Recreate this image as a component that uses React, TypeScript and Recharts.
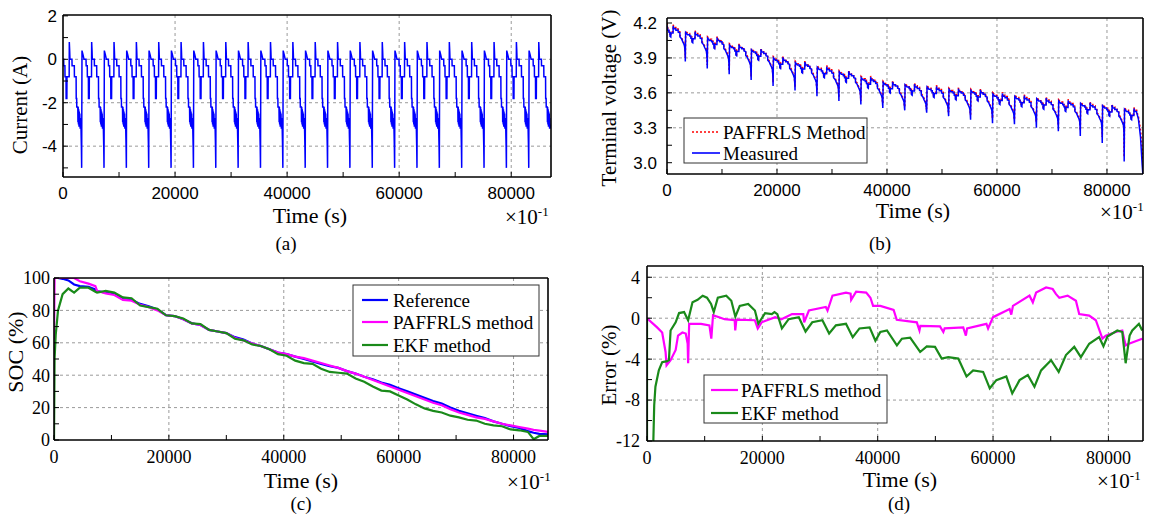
import { LineChart, Line, XAxis, YAxis, CartesianGrid } from "recharts";

// ---------- (a)/(b): one test cycle, placed at every -5 A spike ----------
const cycleStarts = [
  -660, 3330, 7320, 11310, 15300, 19290, 23280, 27270, 31260, 35250, 39240,
  43230, 47220, 51210, 55200, 59190, 63180, 67170, 71160, 75150, 79140, 83130,
];

const currentPhase = [
  0, 60, 250, 420, 780, 800, 1000, 1020, 1200, 1220, 1350, 1370, 1760, 1785,
  1850, 1900, 2260, 2280, 2680, 2700, 3000, 3020, 3100, 3120, 3300, 3330, 3370,
  3420, 3460, 3520, 3560, 3620, 3660, 3720, 3760, 3820, 3860, 3940,
];
const currentLevel = [
  -5.0, 0.4, 0.2, 0.0, 0.0, -0.3, -0.3, -0.8, -0.8, -1.8, -1.8, -0.8, -0.8, 0.8,
  0.4, 0.0, 0.0, -0.3, -0.3, -0.8, -0.8, -1.8, -1.8, -2.2, -2.2, -2.9, -2.2,
  -3.0, -2.3, -3.1, -2.4, -3.1, -2.5, -3.2, -2.7, -3.2, -3.0, -4.0,
];

// voltage shape inside a cycle (V relative to the cycle plateau; phase 0 is the dip)
const voltPhase = [
  0, 60, 250, 420, 780, 800, 1000, 1020, 1200, 1220, 1350, 1370, 1760, 1785,
  1900, 2260, 2280, 2680, 2700, 3000, 3020, 3300, 3520, 3720, 3860, 3940,
];
const voltOffset = [
  0, 0.02, 0.01, 0, 0, -0.012, -0.012, -0.03, -0.03, -0.065, -0.07, -0.035,
  -0.035, 0.025, 0, 0, -0.012, -0.012, -0.03, -0.035, -0.07, -0.085, -0.11,
  -0.13, -0.15, -0.2,
];

const measTop = [
  4.15, 4.1, 4.05, 3.99, 3.95, 3.88, 3.84, 3.8, 3.76, 3.71, 3.67, 3.65, 3.63,
  3.61, 3.6, 3.57, 3.55, 3.53, 3.51, 3.49, 3.47, 3.44,
];
const measDip = [
  3.87, 3.81, 3.76, 3.71, 3.66, 3.62, 3.57, 3.53, 3.5, 3.47, 3.45, 3.43, 3.4,
  3.37, 3.34, 3.33, 3.3, 3.27, 3.23, 3.17, 3.01,
];
const estTop = [
  4.16, 4.11, 4.06, 4.0, 3.96, 3.89, 3.85, 3.81, 3.77, 3.72, 3.68, 3.66, 3.64,
  3.62, 3.61, 3.58, 3.56, 3.54, 3.52, 3.5, 3.48, 3.45,
];
const estDip = [
  3.9, 3.84, 3.79, 3.74, 3.69, 3.65, 3.6, 3.56, 3.53, 3.51, 3.49, 3.47, 3.44,
  3.41, 3.38, 3.37, 3.35, 3.32, 3.28, 3.22, 3.05,
];
const tailTime = [85700, 86100, 86400, 86600];
const measTail = [3.38, 3.22, 2.98, 2.85];
const estTail = [3.4, 3.28, 3.1, 3.0];

// ---------- (c) SOC ----------
const socTime = [
  0, 100, 300, 700, 1500, 2500, 3500, 4500, 6000, 7200, 7500, 9000, 10500,
  12000, 13500, 15000, 16500, 18000, 19500, 21000, 22500, 24000, 25500, 27000,
  28500, 30000, 31500, 33000, 34500, 36000, 37500, 39000, 40500, 42000, 43500,
  45000, 46500, 48000, 49500, 51000, 52500, 54000, 55500, 57000, 58500, 60000,
  61500, 63000, 64500, 66000, 67500, 69000, 70500, 72000, 73500, 75000, 76500,
  78000, 79500, 81000, 82500, 83500, 84500, 86000,
];
const socRef = [
  100, 100, 100, 100, 99.5, 98.5, 96, 95, 94.5, 93, 92, 91, 90, 87, 86.5, 84,
  82.5, 80.5, 77, 76.5, 74.5, 72, 71, 68, 67, 66, 63.5, 62, 59.5, 58, 56, 54,
  53, 51.5, 50, 48.5, 47, 45.5, 44.5, 42.5, 41, 39, 37.5, 35.5, 34, 32, 30, 28,
  26, 24, 22.5, 20, 18, 16.5, 15, 13.5, 11.5, 10, 8.5, 7.5, 5.5, 4.5, 3.8, 3.5,
];
const socPaf = [
  62, 100, 100, 100, 100, 100, 100, 98, 96.5, 95, 92, 90.5, 89.5, 86.5, 86,
  83.5, 82, 80, 77, 76.5, 74.5, 72, 71, 68, 67, 66, 63, 61.5, 59.5, 58, 56, 54,
  53, 51.5, 50.5, 49, 47.5, 46, 44.5, 42.5, 41, 39, 37, 35, 33, 31, 29, 27, 25,
  23, 21.5, 19, 17, 15.5, 14, 13, 11.5, 10, 9, 8, 7, 6.3, 5.8, 5,
];
const socEkf = [
  0, 50, 65, 80, 90, 93.5, 91, 94, 94, 91.5, 91, 92, 91, 88, 87.5, 83, 82, 81,
  77, 76.5, 75, 72, 71.5, 68, 67, 66, 62.5, 61.5, 59, 58, 56, 53, 52, 49, 47.5,
  47, 44, 42, 41.5, 41, 38, 36, 33, 30.5, 30, 27.5, 25, 22, 19.5, 18, 17, 15,
  14, 12.5, 12, 10, 9, 8.5, 6.5, 6, 5, 0.5, 2.5, 2.5,
];

// ---------- (d) error ----------
const errPafTime = [
  0, 1750, 2630, 3220, 3390, 4090, 4970, 5380, 6140, 6720, 7050, 7130, 7310,
  9360, 10820, 11150, 11450, 12500, 13450, 15200, 15300, 15500, 18700, 19200,
  19880, 22220, 23300, 25150, 27100, 27250, 28070, 31000, 31300, 32160, 34500,
  35300, 35400, 36260, 38010, 38740, 39200, 40460, 42760, 43300, 46780, 47240,
  47400, 50800, 51380, 51600, 54830, 55290, 55500, 58850, 59140, 60000, 62870,
  63160, 63450, 66320, 66900, 67470, 69200, 70340, 70920, 71490, 72930, 74370,
  74940, 76670, 77820, 78970, 79540, 81260, 82410, 82990, 83560, 85860,
];
const errPafVal = [
  0, -0.9, -1.4, -3.3, -4.6, -4.1, -3.1, -1.7, -1.4, -1.5, -2.5, -4.4, -0.55,
  -0.55, -0.7, -2.0, 0.3, 0.1, -0.1, -0.2, -1.2, -0.15, -0.2, -1.0, -0.4, 0.1,
  -0.1, 0.4, 0.4, -0.4, 0.75, 1.1, 0.75, 2.2, 2.5, 2.4, 1.8, 2.6, 2.5, 2.0, 1.2,
  1.2, 0.8, -0.15, -0.4, -1.2, -0.75, -0.8, -1.35, -1.0, -0.9, -1.7, -1.0,
  -0.55, -1.0, 0.1, 0.9, 0.35, 1.2, 2.2, 1.55, 2.5, 3.0, 2.85, 2.35, 2.0, 2.2,
  1.7, 0.4, 0.25, -0.2, -2.0, -1.7, -1.35, -1.2, -2.65, -2.5, -2.0,
];
const errEkfTime = [
  0, 1, 1000, 1100, 1250, 1460, 2050, 2630, 3510, 3800, 4090, 4970, 5560, 6430,
  7130, 7890, 8770, 9650, 10400, 11110, 11580, 12280, 13740, 14620, 15320,
  16080, 17540, 18710, 19300, 20470, 21640, 22100, 22600, 23390, 24560, 26320,
  27490, 28650, 30410, 31580, 32750, 34500, 35670, 36840, 38600, 39600, 40460,
  41610, 43330, 44200, 45630, 47360, 48510, 49940, 51090, 52240, 53970, 55400,
  56550, 58280, 59430, 60570, 62300, 63330, 64600, 66030, 67180, 68330, 70060,
  71380, 72640, 74080, 75230, 76670, 78390, 79140, 79830, 81550, 82410, 82990,
  83680, 84140, 85290, 85860,
];
const errEkfVal = [
  0, -20, -20, -12, -8.5, -6.7, -5.1, -4.3, -4.2, -4.1, -1.2, -0.4, 0.5, 0.6,
  -0.2, 1.55, 1.8, 2.2, 2.0, 1.4, 0.6, 2.0, 2.2, 1.7, 0.15, 1.2, 1.4, 0.75,
  -0.55, 0.5, 0.4, 0.6, 0.4, -1.0, -0.1, 0.1, -1.3, -0.4, -0.2, -1.5, -0.7,
  -0.55, -1.85, -1.0, -0.9, -2.2, -1.35, -1.2, -2.65, -2.0, -1.9, -3.3, -2.75,
  -2.8, -3.95, -3.8, -3.95, -5.7, -5.1, -5.25, -6.85, -6.05, -5.7, -7.35, -6.05,
  -5.55, -6.7, -5.1, -4.1, -5.25, -3.6, -2.8, -3.8, -2.5, -1.85, -2.75, -1.8,
  -1.2, -1.35, -4.4, -1.7, -1.2, -0.55, -1.2,
];

const xTicks = [0, 10000, 20000, 30000, 40000, 50000, 60000, 70000, 80000];
const xMajor = [20000, 40000, 60000, 80000];

type Pt = { t: number; v: number };

const currentData = (): Pt[] => {
  const pts: Pt[] = [{ t: 0, v: 0 }];
  cycleStarts.forEach((s) => {
    currentPhase.forEach((p, i) => {
      const t = s + p;
      if (t > 0 && t <= 87000) pts.push({ t, v: currentLevel[i] });
    });
  });
  return pts;
};

const voltageData = (start: number, tops: number[], dips: number[], tail: number[]): Pt[] => {
  const pts: Pt[] = [{ t: 0, v: start }];
  cycleStarts.forEach((s, k) => {
    voltPhase.forEach((p, i) => {
      const t = s + p;
      if (t <= 0 || t >= tailTime[0]) return;
      pts.push({ t, v: i === 0 ? dips[k - 1] : tops[k] + voltOffset[i] });
    });
  });
  tailTime.forEach((t, i) => pts.push({ t, v: tail[i] }));
  return pts;
};

const zip = (ts: number[], vs: number[]): Pt[] => ts.map((t, i) => ({ t, v: vs[i] }));

const socData = socTime.map((t, i) => ({ t, ref: socRef[i], paf: socPaf[i], ekf: socEkf[i] }));

const SANS = "'Liberation Sans', Arial, sans-serif";
const SERIF = "'Liberation Serif', 'Times New Roman', serif";
const frame = { stroke: "#000", strokeWidth: 1.6 };
const xFmt = (v: number) => (v % 20000 === 0 ? String(v) : "");

// shared axis frame: labelled bottom/left, bare top/right, ticks pointing inward
const Frame = (p: {
  xMax: number;
  yDomain: [number, number];
  yTicks: number[];
  yFmt: (v: number) => string;
  font: string;
  fontSize: number;
  yWidth: number;
  xHeight: number;
  xMargin: number;
  yMargin: number;
}) => [
  <XAxis
    key="xb"
    dataKey="t"
    type="number"
    domain={[0, p.xMax]}
    allowDataOverflow
    ticks={xTicks}
    tickFormatter={xFmt}
    height={p.xHeight}
    axisLine={frame}
    tickLine={{ stroke: "#000" }}
    tickSize={-5}
    tickMargin={p.xMargin}
    tick={{ fill: "#000", fontSize: p.fontSize, fontFamily: p.font }}
    interval={0}
  />,
  <XAxis
    key="xt"
    xAxisId="top"
    orientation="top"
    type="number"
    domain={[0, p.xMax]}
    allowDataOverflow
    ticks={xTicks}
    height={1}
    axisLine={frame}
    tickLine={{ stroke: "#000" }}
    tickSize={-5}
    tick={false}
    interval={0}
  />,
  <YAxis
    key="yl"
    type="number"
    domain={p.yDomain}
    allowDataOverflow
    ticks={p.yTicks}
    tickFormatter={p.yFmt}
    width={p.yWidth}
    axisLine={frame}
    tickLine={{ stroke: "#000" }}
    tickSize={-5}
    tickMargin={p.yMargin}
    tick={{ fill: "#000", fontSize: p.fontSize, fontFamily: p.font }}
    interval={0}
  />,
  <YAxis
    key="yr"
    yAxisId="right"
    orientation="right"
    type="number"
    domain={p.yDomain}
    allowDataOverflow
    ticks={p.yTicks}
    width={1}
    axisLine={frame}
    tickLine={{ stroke: "#000" }}
    tickSize={-5}
    tick={false}
    interval={0}
  />,
];

const grid = (h: number[]) => (
  <CartesianGrid
    stroke="#9a9a9a"
    strokeDasharray="3 3"
    horizontalValues={h}
    verticalValues={xMajor}
  />
);

const Sup = ({ x, y }: { x: number; y: number }) => (
  <text x={x} y={y} fontFamily={SERIF} fontSize={21}>
    ×10
    <tspan dy={-8} fontSize={13}>
      -1
    </tspan>
  </text>
);

const Overlay = () => (
  <svg
    width={1151}
    height={519}
    style={{ position: "absolute", left: 0, top: 0, pointerEvents: "none" }}
  >
    <g fill="#000" fontFamily={SERIF}>
      {/* (a) */}
      <text transform="translate(20,105) rotate(-90)" textAnchor="middle" dominantBaseline="central" fontSize={21}>
        Current (A)
      </text>
      <text x={310} y={223} textAnchor="middle" fontSize={22}>Time (s)</text>
      <Sup x={505} y={224} />
      <text x={286} y={250} textAnchor="middle" fontSize={19}>(a)</text>

      {/* (b) */}
      <text transform="translate(609,98) rotate(-90)" textAnchor="middle" dominantBaseline="central" fontSize={21}>
        Terminal voltage (V)
      </text>
      <text x={913} y={218} textAnchor="middle" fontSize={22}>Time (s)</text>
      <Sup x={1100} y={219} />
      <text x={880} y={250} textAnchor="middle" fontSize={19}>(b)</text>
      <rect x={684} y={118} width={183} height={45} fill="#fff" stroke="#333" />
      <line x1={692} x2={720} y1={132} y2={132} stroke="#ff0000" strokeWidth={1.6} strokeDasharray="2 2" />
      <text x={723} y={138.5} fontSize={19}>PAFFRLS Method</text>
      <line x1={692} x2={720} y1={153} y2={153} stroke="#0000ff" strokeWidth={1.6} />
      <text x={723} y={159.5} fontSize={19}>Measured</text>

      {/* (c) */}
      <text transform="translate(15,352) rotate(-90)" textAnchor="middle" dominantBaseline="central" fontSize={22}>
        SOC (%)
      </text>
      <text x={301} y={488} textAnchor="middle" fontSize={22}>Time (s)</text>
      <Sup x={507} y={489} />
      <text x={301} y={510} textAnchor="middle" fontSize={19}>(c)</text>
      <rect x={353} y={285} width={186} height={71} fill="#fff" stroke="#333" />
      <line x1={362} x2={388} y1={300} y2={300} stroke="#0000ff" strokeWidth={2.2} />
      <text x={393} y={306.5} fontSize={19}>Reference</text>
      <line x1={362} x2={388} y1={322} y2={322} stroke="#ff00ff" strokeWidth={2.2} />
      <text x={393} y={328.5} fontSize={19}>PAFFRLS method</text>
      <line x1={362} x2={388} y1={345} y2={345} stroke="#1a8a1a" strokeWidth={2.2} />
      <text x={393} y={351.5} fontSize={19}>EKF method</text>

      {/* (d) */}
      <text transform="translate(609,365) rotate(-90)" textAnchor="middle" dominantBaseline="central" fontSize={21}>
        Error (%)
      </text>
      <text x={900} y={487} textAnchor="middle" fontSize={22}>Time (s)</text>
      <Sup x={1097} y={488} />
      <text x={899} y={510} textAnchor="middle" fontSize={19}>(d)</text>
      <rect x={704} y={375} width={183} height={48} fill="#fff" stroke="#333" />
      <line x1={711} x2={738} y1={390} y2={390} stroke="#ff00ff" strokeWidth={2.2} />
      <text x={741} y={396.5} fontSize={19}>PAFFRLS method</text>
      <line x1={711} x2={738} y1={413} y2={413} stroke="#1a8a1a" strokeWidth={2.2} />
      <text x={741} y={419.5} fontSize={19}>EKF method</text>
    </g>
  </svg>
);

const App = () => {
  const cur = currentData();
  const meas = voltageData(4.18, measTop, measDip, measTail);
  const est = voltageData(4.2, estTop, estDip, estTail);

  return (
    <div style={{ position: "relative", width: 1151, height: 519, background: "#fff" }}>
      <style>{"body{margin:0}"}</style>

      <div style={{ position: "absolute", left: 0, top: 0 }}>
        <LineChart width={575} height={235} data={cur} margin={{ top: 14, right: 23, bottom: 0, left: 0 }}>
          {grid([-4, -2, 0])}
          {Frame({
            xMax: 87100,
            yDomain: [-5.42, 2.04],
            yTicks: [-5, -4, -3, -2, -1, 0, 1, 2],
            yFmt: (v) => (v % 2 === 0 ? String(v) : ""),
            font: SANS,
            fontSize: 17,
            yWidth: 63,
            xHeight: 58,
            xMargin: 15,
            yMargin: 11,
          })}
          <Line dataKey="v" stroke="#0000ff" strokeWidth={1.5} dot={false} isAnimationActive={false} />
        </LineChart>
      </div>

      <div style={{ position: "absolute", left: 575, top: 0 }}>
        <LineChart width={576} height={235} margin={{ top: 17, right: 7, bottom: 0, left: 0 }}>
          {grid([3.3, 3.6, 3.9])}
          {Frame({
            xMax: 86550,
            yDomain: [2.903, 4.243],
            yTicks: [3.0, 3.15, 3.3, 3.45, 3.6, 3.75, 3.9, 4.05, 4.2],
            yFmt: (v) => (Math.round(v * 100) % 30 === 0 ? v.toFixed(1) : ""),
            font: SANS,
            fontSize: 17,
            yWidth: 92,
            xHeight: 61,
            xMargin: 15,
            yMargin: 15,
          })}
          <Line data={est} dataKey="v" stroke="#ff0000" strokeWidth={1.6} strokeDasharray="2 2" dot={false} isAnimationActive={false} />
          <Line data={meas} dataKey="v" stroke="#0000ff" strokeWidth={1.5} dot={false} isAnimationActive={false} />
        </LineChart>
      </div>

      <div style={{ position: "absolute", left: 0, top: 250 }}>
        <LineChart width={575} height={269} data={socData} margin={{ top: 27, right: 26, bottom: 0, left: 0 }}>
          {grid([20, 40, 60, 80])}
          {Frame({
            xMax: 86000,
            yDomain: [0, 100],
            yTicks: [0, 10, 20, 30, 40, 50, 60, 70, 80, 90, 100],
            yFmt: (v) => (v % 20 === 0 ? String(v) : ""),
            font: SERIF,
            fontSize: 18,
            yWidth: 54,
            xHeight: 79,
            xMargin: 15,
            yMargin: 9,
          })}
          <Line dataKey="ref" stroke="#0000ff" strokeWidth={2.2} dot={false} isAnimationActive={false} />
          <Line dataKey="paf" stroke="#ff00ff" strokeWidth={2.2} dot={false} isAnimationActive={false} />
          <Line dataKey="ekf" stroke="#1a8a1a" strokeWidth={2.2} dot={false} isAnimationActive={false} />
        </LineChart>
      </div>

      <div style={{ position: "absolute", left: 575, top: 250 }}>
        <LineChart width={576} height={269} margin={{ top: 15, right: 7, bottom: 0, left: 0 }}>
          {grid([-8, -4, 0, 4])}
          {Frame({
            xMax: 86000,
            yDomain: [-12, 5.1],
            yTicks: [-12, -10, -8, -6, -4, -2, 0, 2, 4],
            yFmt: (v) => (v % 4 === 0 ? String(v) : ""),
            font: SERIF,
            fontSize: 18,
            yWidth: 72,
            xHeight: 78,
            xMargin: 15,
            yMargin: 12,
          })}
          <Line data={zip(errPafTime, errPafVal)} dataKey="v" stroke="#ff00ff" strokeWidth={2.2} dot={false} isAnimationActive={false} />
          <Line data={zip(errEkfTime, errEkfVal)} dataKey="v" stroke="#1a8a1a" strokeWidth={2.2} dot={false} isAnimationActive={false} />
        </LineChart>
      </div>

      <Overlay />
    </div>
  );
};

export default App;
